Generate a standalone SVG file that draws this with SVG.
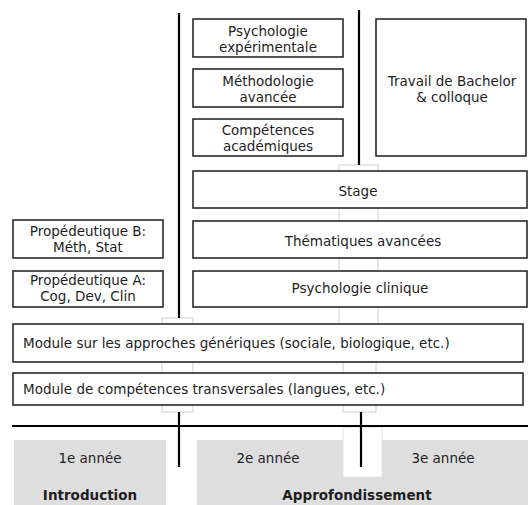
<svg xmlns="http://www.w3.org/2000/svg" width="528" height="505" viewBox="0 0 528 505">
<style>
.box{fill:#fff;stroke:#2a2a2a;stroke-width:1.6}
.tab{fill:#fff;stroke:#cfcfcf;stroke-width:1}
.year{fill:#dedede;stroke:none}
.ln{stroke:#000;stroke-width:2.2;fill:none}
text{font-family:"DejaVu Sans","Liberation Sans",sans-serif;font-size:13.5px;fill:#1e1e1e;text-anchor:middle}
.l{text-anchor:start}
.b{font-weight:bold}
</style>
<rect width="528" height="505" fill="#fff"/>
<g id="years">
<rect class="year" x="14" y="440" width="152" height="65"/>
<rect class="year" x="197" y="440" width="331" height="65"/>
<rect x="343" y="427" width="39" height="50" fill="#fff" stroke="#e4e4e4" stroke-width="1"/>
<text x="90" y="463">1e année</text>
<text x="90" y="500" class="b">Introduction</text>
<text x="268" y="463">2e année</text>
<text x="443" y="463">3e année</text>
<text x="357" y="500" class="b">Approfondissement</text>
</g>
<g id="connectors">
<rect class="tab" x="339" y="165" width="39" height="6"/>
<rect class="tab" x="339" y="208" width="39" height="13"/>
<rect class="tab" x="339" y="258" width="39" height="13"/>
<rect class="tab" x="339" y="307" width="39" height="17"/>
<rect class="tab" x="162" y="318" width="31" height="6"/>
<rect class="tab" x="162" y="362" width="31" height="11"/>
<rect class="tab" x="343" y="362" width="33" height="11"/>
<rect class="tab" x="162" y="405" width="31" height="7"/>
<rect class="tab" x="343" y="405" width="33" height="7"/>
<line class="ln" x1="179" y1="13" x2="179" y2="318"/>
<line class="ln" x1="359" y1="10" x2="359" y2="165"/>
<line class="ln" x1="179" y1="412" x2="179" y2="467"/>
<line class="ln" x1="361" y1="412" x2="361" y2="467"/>
<line class="ln" x1="12" y1="426" x2="528" y2="426"/>
</g>
<g id="psych-exp">
<rect class="box" x="193" y="19" width="150" height="38"/>
<text x="268" y="36">Psychologie</text>
<text x="268" y="52">expérimentale</text>
</g>
<g id="methodo">
<rect class="box" x="193" y="69" width="150" height="38"/>
<text x="268" y="86">Méthodologie</text>
<text x="268" y="102">avancée</text>
</g>
<g id="competences">
<rect class="box" x="193" y="119" width="150" height="37"/>
<text x="268" y="135">Compétences</text>
<text x="268" y="151">académiques</text>
</g>
<g id="travail">
<rect class="box" x="376" y="19" width="150" height="137"/>
<text x="452" y="86">Travail de Bachelor</text>
<text x="452" y="102">&amp; colloque</text>
</g>
<g id="stage">
<rect class="box" x="193" y="171" width="334" height="37"/>
<text x="358" y="196">Stage</text>
</g>
<g id="thematiques">
<rect class="box" x="193" y="221" width="334" height="37"/>
<text x="363" y="246">Thématiques avancées</text>
</g>
<g id="propB">
<rect class="box" x="13" y="220" width="150" height="38"/>
<text x="88" y="236">Propédeutique B:</text>
<text x="88" y="252">Méth, Stat</text>
</g>
<g id="propA">
<rect class="box" x="13" y="271" width="150" height="36"/>
<text x="88" y="285">Propédeutique A:</text>
<text x="88" y="301">Cog, Dev, Clin</text>
</g>
<g id="psych-clin">
<rect class="box" x="193" y="271" width="334" height="36"/>
<text x="360" y="293">Psychologie clinique</text>
</g>
<g id="module-approches">
<rect class="box" x="13" y="324" width="510" height="38"/>
<text x="23" y="348" class="l">Module sur les approches génériques (sociale, biologique, etc.)</text>
</g>
<g id="module-competences">
<rect class="box" x="13" y="373" width="510" height="32"/>
<text x="23" y="394" class="l">Module de compétences transversales (langues, etc.)</text>
</g>
</svg>
